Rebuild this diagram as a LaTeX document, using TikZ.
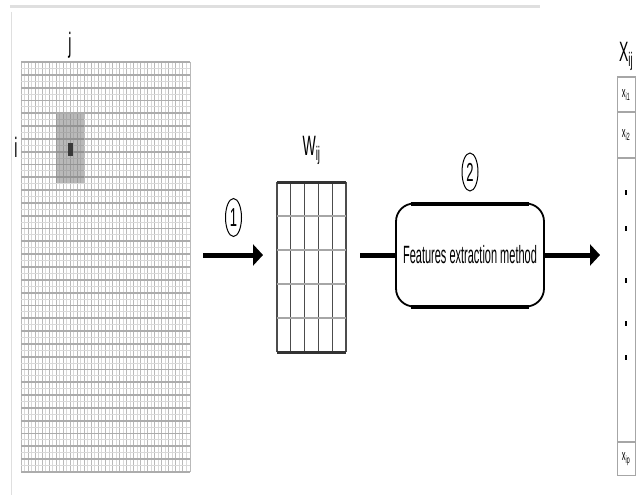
\documentclass[tikz,border=0pt]{standalone}
\usepackage{fontspec}
\setmainfont{Liberation Sans}
\usetikzlibrary{
	arrows.meta,
	positioning,
	shapes.geometric
}
\tikzset{every path/.append style={line width=0.5pt}}
\tikzset{
	box/.style={inner sep=0pt,outer sep=0pt},
	flow/.style={line width=5pt,-{Triangle[length=10pt,width=21pt]}},
	stepno/.style={ellipse,draw,line width=1pt,inner sep=0pt,minimum width=16pt,minimum height=38pt,font=\fontsize{26}{26}\selectfont},
	biglab/.style={inner sep=0pt,font=\fontsize{28}{28}\selectfont},
	celllab/.style={inner sep=0pt,font=\fontsize{15}{15}\selectfont},
	vdot/.style={rectangle,fill,inner sep=0pt,minimum width=2pt,minimum height=5pt},
	gridv/.style={gray!55,line width=1pt},
	gridh/.style={gray!65,line width=1.8pt},
	gridl/.style={gray!30,line width=1pt}
}
\newcommand{\nrw}[1]{\scalebox{0.5}[1]{#1}}
\newcommand{\cellLab}[3]{\node[celllab] (#3) at #1 {\nrw{#2}};}

\begin{document}
\begin{tikzpicture}[x=1pt,y=-1pt]
	\useasboundingbox (0,0) rectangle (637,495);
	% faint frame of the scan
	\draw[gray!25,line width=3pt] (10,7) -- (540,7);
	\draw[gray!25,line width=1pt] (11,12) -- (11,495);
	
	% input image
	\node[box,minimum width=169pt,minimum height=410pt] (img) at (105.5,267) {};
	\foreach \c in {0,...,23}
		\draw[gridl] ({24.5+\c*169/24},62) -- ({24.5+\c*169/24},472);
	\foreach \c in {0,...,24}
		\draw[gridv] ({21+\c*169/24},62) -- ({21+\c*169/24},472);
	\foreach \r in {0,...,31}
		\draw[gridl] (21,{68.4+\r*12.8125}) -- (190,{68.4+\r*12.8125});
	\foreach \r in {0,...,32}
		\draw[gridh] (21,{62+\r*12.8125}) -- (190,{62+\r*12.8125});
	\fill[gray,opacity=0.55] (56,114) rectangle (84,183);
	\fill[gray!45!black] (68,143) rectangle (73,156);
	\node[biglab] (jlab) at (70,45) {\nrw{j}};
	\node[biglab] (ilab) at (16,147) {\nrw{i}};
	
	% window W_ij
	\node[box,minimum width=69pt,minimum height=170pt] (wmat) at (311.5,267) {};
	\foreach \c in {0,...,5}
		\draw[gray!60!black,line width=1.2pt] ({277+\c*13.8},182) -- ({277+\c*13.8},352);
	\foreach \r in {1,...,4}
		\draw[gray!70,line width=2pt] (277,{182+\r*34}) -- (346,{182+\r*34});
	\draw[gray!40!black,line width=3pt] (wmat.north west) -- (wmat.north east);
	\draw[gray!40!black,line width=3pt] (wmat.south west) -- (wmat.south east);
	\node[biglab,above=17pt of wmat] (wlab) {\nrw{W\textsubscript{ij}}};
	
	% method
	\node[box,draw,line width=1.8pt,rounded corners=18pt,minimum width=148pt,minimum height=103pt,
		font=\fontsize{25}{25}\selectfont] (fem) at (470,255) {\scalebox{0.44}[1]{Features extraction method}};
	\draw[line width=4pt] ([xshift=15pt]fem.north west) -- ([xshift=-15pt]fem.north east);
	\draw[line width=4pt] ([xshift=15pt]fem.south west) -- ([xshift=-15pt]fem.south east);
	\node[stepno,above=12pt of fem] (s2) {\nrw{2}};
	
	% feature vector X_ij
	\node[box,draw=gray!70,line width=1pt,minimum width=18pt,minimum height=398pt] (vec) at (626,276) {};
	\draw[gray!70,line width=2.5pt] (vec.west |- 0,112) -- (vec.east |- 0,112);
	\draw[gray!70,line width=2.5pt] (vec.west |- 0,158) -- (vec.east |- 0,158);
	\draw[gray!70,line width=2.5pt] (vec.west |- 0,442) -- (vec.east |- 0,442);
	\cellLab{(626,95)}{x\textsubscript{i1}}{xi1}
	\cellLab{(626,135)}{x\textsubscript{i2}}{xi2}
	\cellLab{(626,459)}{x\textsubscript{ip}}{xip}
	\foreach \y [count=\k] in {192,228,280,323,357}
		\node[vdot] (d\k) at (626,\y) {};
	\node[biglab,above=6pt of vec] (xlab) {\nrw{X\textsubscript{ij}}};
	
	% connectors
	\draw[flow,shorten <=13pt,shorten >=14pt] (img.east |- fem) -- node[stepno,above=18pt] (s1) {\nrw{1}} (wmat.west |- fem);
	\draw[line width=5pt,shorten <=14pt] (wmat.east |- fem) -- (fem.west);
	\draw[flow,shorten >=17pt] (fem.east) -- (vec.west |- fem);
\end{tikzpicture}
\end{document}
